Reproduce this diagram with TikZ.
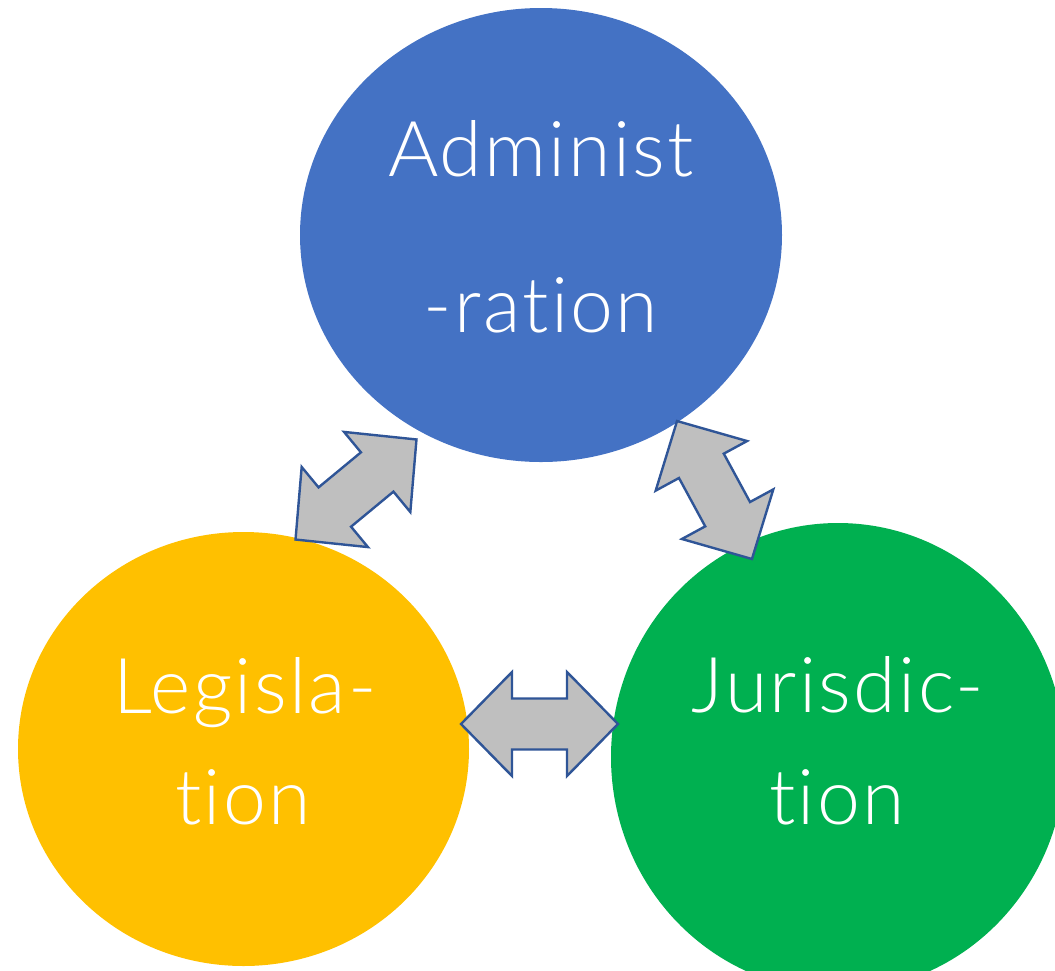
\documentclass[tikz,border=0pt]{standalone}
\usepackage{fontspec}
\newfontfamily\lblfont{Lato Light}[Ligatures={NoCommon,NoDiscretionary}, RawFeature={-liga;-dlig}, LetterSpace=3]
\usetikzlibrary{shapes.geometric}
\definecolor{admblue}{HTML}{4472C4}
\definecolor{legyellow}{HTML}{FFC000}
\definecolor{jurgreen}{HTML}{00B050}
\definecolor{arrowfill}{HTML}{BFBFBF}
\definecolor{arrowline}{HTML}{2F5597}
\tikzset{
  bubble/.style={ellipse, draw=none, inner sep=0pt},
  lbl/.style={text=white, font=\lblfont\fontsize{77}{77}\selectfont, anchor=base, inner sep=0pt},
  blockarrow/.pic={
    \draw[fill=arrowfill, draw=arrowline, line width=2.4pt, line join=miter]
      (78.5,0) -- (27.5,52) -- (27.5,25.5) -- (-27.5,25.5) -- (-27.5,52)
      -- (-78.5,0) -- (-27.5,-52) -- (-27.5,-25.5) -- (27.5,-25.5) -- (27.5,-52) -- cycle;
  }
}
\begin{document}
\begin{tikzpicture}[x=1pt,y=-1pt]
\useasboundingbox (0,0) rectangle (1055,970);
\clip (0,0) rectangle (1055,970);
% circles
\node[bubble, fill=admblue, minimum width=482pt, minimum height=454pt] (adm) at (541,235) {};
\node[bubble, fill=legyellow, minimum width=451pt, minimum height=434pt] (leg) at (243.5,749) {};
\node[bubble, fill=jurgreen, minimum width=454pt, minimum height=468pt] (jur) at (838,757) {};
% labels
\node[lbl] (adm1) at (541,176) {Administ};
\node[lbl] (adm2) at (541,332) {-ration};
\node[lbl] (leg1) at (245,713) {Legisla-};
\node[lbl] (leg2) at (243,824) {tion};
\node[lbl] (jur1) at (838,712) {Jurisdic-};
\node[lbl] (jur2) at (837,824) {tion};
% block arrows
\coordinate (la) at (356,489.5);
\coordinate (ra) at (714.5,490);
\coordinate (ha) at (539.5,724);
\pic[rotate=39.6] at (la) {blockarrow};
\pic[rotate=118.5] at (ra) {blockarrow};
\pic at (ha) {blockarrow};
\end{tikzpicture}
\end{document}
